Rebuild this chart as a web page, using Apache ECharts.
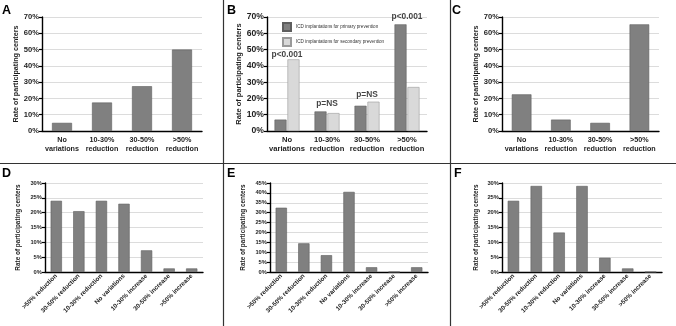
<!DOCTYPE html>
<html>
<head>
<meta charset="utf-8">
<script src="https://cdn.jsdelivr.net/npm/echarts@6/dist/echarts.min.js"></script>
<style>
  html, body { margin:0; padding:0; background:#fff; }
  #chart { width:676px; height:326px; }
</style>
</head>
<body>
<div id="chart"></div>
<script>
const catTop = ['No\nvariations', '10-30%\nreduction', '30-50%\nreduction', '>50%\nreduction'];
const catBottom = ['>50% reduction', '30-50% reduction', '10-30% reduction', 'No variations', '10-30% increase', '30-50% increase', '>50% increase'];

const valA = [5, 17.5, 27.5, 50];
const valBPrimary = [7, 12, 15.5, 65.5];
const valBSecondary = [44, 11, 18, 27];
const pLabelsB = ['p<0.001', 'p=NS', 'p=NS', 'p<0.001'];
const pPosB = [47, 17, 22.5, 70];
const valC = [22.5, 7, 5, 65.5];
const valD = [24, 20.5, 24, 23, 7.3, 1.2, 1.2];
const valE = [32.5, 14.5, 8.5, 40.5, 2.4, 0, 2.4];
const valF = [24, 29, 13.3, 29, 4.8, 1.2, 0];

const yName = 'Rate of participating centers';
const font = 'Liberation Sans, Arial, sans-serif';
const ink = '#1e1e1e';
const darkBar = { color:'#808080', borderColor:'#5e5e5e', borderWidth:0.6 };
const lightBar = { color:'#d9d9d9', borderColor:'#9a9a9a', borderWidth:0.6 };

// grid boxes for the 6 panels
const grids = [
    { left:42, top:17, width:160, height:114 },
    { left:267, top:17, width:160, height:114 },
    { left:502, top:17, width:157, height:114 },
    { left:45, top:183, width:158, height:89 },
    { left:270, top:183, width:158, height:89 },
    { left:502, top:183, width:160, height:89 }
];
const yMax = [70, 70, 70, 30, 45, 30];
const yStep = [10, 10, 10, 5, 5, 5];
const nameGap = [21, 22, 22, 24, 24, 23];

let xAxes = grids.map((g, i) => {
    let top = i < 3;
    return {
        type:'category',
        gridIndex:i,
        data: top ? catTop : catBottom,
        axisLine:{ lineStyle:{ color:'#000', width:1.4 } },
        axisTick:{ length:3, lineStyle:{ color:'#000', width:1.2 } },
        axisLabel:{
            color:ink, fontFamily:font, fontWeight:'bold',
            fontSize: top ? (i === 1 ? 7.6 : 7.2) : 6.3,
            lineHeight: top ? 8.5 : 7,
            margin: top ? 5 : 3,
            rotate: top ? 0 : 45,
            interval:0
        }
    };
});

let yAxes = grids.map((g, i) => {
    let top = i < 3;
    return {
        type:'value',
        gridIndex:i,
        min:0,
        max:yMax[i],
        interval:yStep[i],
        name:yName,
        nameLocation:'middle',
        nameGap:nameGap[i],
        nameTextStyle:{ color:ink, fontFamily:font, fontWeight:'bold', fontSize: top ? (i === 1 ? 7.5 : 7.2) : 6.4 },
        axisLine:{ show:true, lineStyle:{ color:'#000', width:1.4 } },
        axisTick:{ show:true, length:3, lineStyle:{ color:'#000', width:1.2 } },
        axisLabel:{
            color:ink, fontFamily:font, fontWeight:'bold',
            fontSize: top ? (i === 1 ? 8.6 : 7.6) : 5.8,
            margin:3,
            formatter:'{value}%'
        },
        splitLine:{ show:true, lineStyle:{ color:'#dcdcdc', width:1 } }
    };
});

function barSeries(idx, values, style, name) {
    return {
        type:'bar',
        name:name,
        xAxisIndex:idx,
        yAxisIndex:idx,
        data:values,
        barWidth:'50%',
        itemStyle:style,
        silent:true
    };
}

let series = [
    barSeries(0, valA, darkBar),
    Object.assign(barSeries(1, valBPrimary, darkBar, 'ICD implantations for primary prevention'), { barWidth:12, barGap:'8%' }),
    Object.assign(barSeries(1, valBSecondary, lightBar, 'ICD implantations for secondary prevention'), { barWidth:12, barGap:'8%' }),
    {
        type:'scatter',
        xAxisIndex:1,
        yAxisIndex:1,
        data:pPosB,
        symbolSize:1,
        itemStyle:{ color:'rgba(0,0,0,0)' },
        silent:true,
        label:{
            show:true,
            position:'inside',
            formatter:(p) => pLabelsB[p.dataIndex],
            color:'#111', fontFamily:font, fontWeight:'bold', fontSize:8.4
        }
    },
    barSeries(2, valC, darkBar),
    barSeries(3, valD, darkBar),
    barSeries(4, valE, darkBar),
    barSeries(5, valF, darkBar)
];

const letters = [['A', 2, 4], ['B', 227, 4], ['C', 452, 4], ['D', 2, 167], ['E', 227, 167], ['F', 454, 167]];

let option = {
    animation:false,
    backgroundColor:'#fff',
    grid:grids,
    xAxis:xAxes,
    yAxis:yAxes,
    legend:{
        data:['ICD implantations for primary prevention', 'ICD implantations for secondary prevention'],
        orient:'vertical',
        left:277,
        top:17,
        itemWidth:8,
        itemHeight:8,
        itemGap:5,
        icon:'rect',
        selectedMode:false,
        textStyle:{ color:'#333', fontFamily:font, fontSize:4.6 }
    },
    title:letters.map(l => ({
        text:l[0], left:l[1], top:l[2], padding:0,
        textStyle:{ color:'#000', fontFamily:font, fontWeight:'bold', fontSize:12.5 }
    })),
    graphic:[
        { type:'line', shape:{ x1:223.5, y1:0, x2:223.5, y2:326 }, style:{ stroke:'#333', lineWidth:1.2 } },
        { type:'line', shape:{ x1:450.5, y1:0, x2:450.5, y2:326 }, style:{ stroke:'#333', lineWidth:1.2 } },
        { type:'line', shape:{ x1:0, y1:163.5, x2:676, y2:163.5 }, style:{ stroke:'#333', lineWidth:1.2 } }
    ],
    series:series
};

let myChart = echarts.init(document.getElementById('chart'), null, { renderer:'canvas' });
myChart.setOption(option);
</script>
</body>
</html>
